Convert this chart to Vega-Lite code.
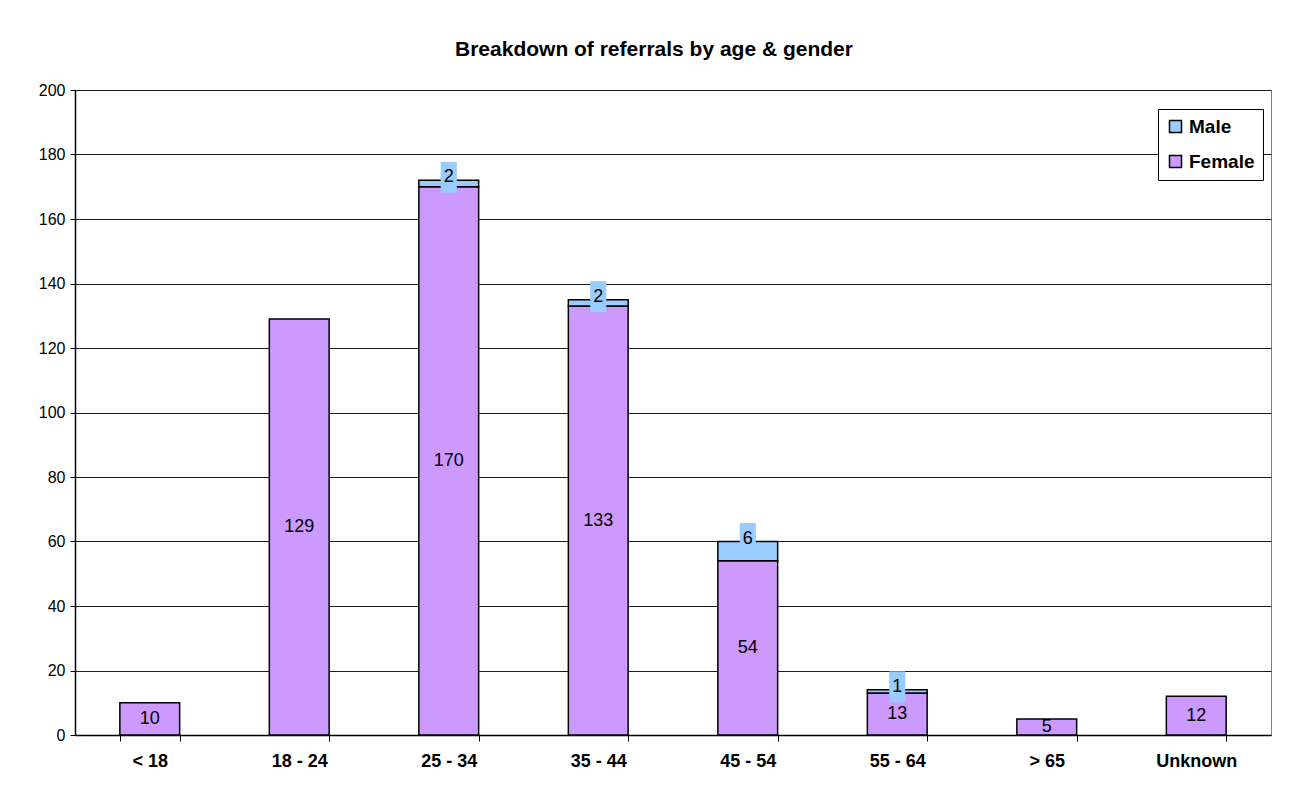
{
  "$schema": "https://vega.github.io/schema/vega-lite/v6.json",
  "width": 1196,
  "height": 645,
  "autosize": {"type": "none"},
  "padding": {"left": 75, "top": 90, "right": 33, "bottom": 57},
  "background": "white",
  "title": {
    "text": "Breakdown of referrals by age & gender",
    "fontSize": 21,
    "fontWeight": "bold",
    "font": "Liberation Sans",
    "color": "black",
    "anchor": "middle",
    "dx": -19,
    "offset": 22
  },
  "data": {
    "values": [
      {"age": "< 18", "gender": "Female", "count": 10},
      {"age": "18 - 24", "gender": "Female", "count": 129},
      {"age": "25 - 34", "gender": "Female", "count": 170},
      {"age": "25 - 34", "gender": "Male", "count": 2},
      {"age": "35 - 44", "gender": "Female", "count": 133},
      {"age": "35 - 44", "gender": "Male", "count": 2},
      {"age": "45 - 54", "gender": "Female", "count": 54},
      {"age": "45 - 54", "gender": "Male", "count": 6},
      {"age": "55 - 64", "gender": "Female", "count": 13},
      {"age": "55 - 64", "gender": "Male", "count": 1},
      {"age": "> 65", "gender": "Female", "count": 5},
      {"age": "Unknown", "gender": "Female", "count": 12}
    ]
  },
  "transform": [
    {"stack": "count", "groupby": ["age"], "sort": [{"field": "gender", "order": "ascending"}], "as": ["y0", "y1"]},
    {"calculate": "(datum.y0 + datum.y1) / 2", "as": "mid"}
  ],
  "encoding": {
    "x": {
      "field": "age",
      "type": "nominal",
      "sort": ["< 18", "18 - 24", "25 - 34", "35 - 44", "45 - 54", "55 - 64", "> 65", "Unknown"],
      "scale": {"paddingInner": 0.6, "paddingOuter": 0.3},
      "axis": {
        "title": null,
        "labelAngle": 0,
        "labelFont": "Liberation Sans",
        "labelFontSize": 18,
        "labelFontWeight": "bold",
        "labelColor": "black",
        "labelPadding": 11,
        "tickBand": "extent",
        "tickSize": 6,
        "tickColor": "black",
        "domainColor": "black",
        "domainWidth": 1.5,
        "grid": false
      }
    }
  },
  "layer": [
    {
      "mark": {"type": "bar", "stroke": "black", "strokeWidth": 1.5},
      "encoding": {
        "y": {
          "field": "y1",
          "type": "quantitative",
          "scale": {"domain": [0, 200], "nice": false},
          "axis": {
            "title": null,
            "values": [0, 20, 40, 60, 80, 100, 120, 140, 160, 180, 200],
            "labelFont": "Liberation Sans",
            "labelFontSize": 16,
            "labelColor": "black",
            "labelPadding": 5,
            "tickSize": 5,
            "tickColor": "black",
            "domainColor": "black",
            "domainWidth": 1.5,
            "grid": true,
            "gridColor": "#1a1a1a",
            "gridOpacity": 1,
            "gridWidth": 1
          }
        },
        "y2": {"field": "y0"},
        "color": {
          "field": "gender",
          "type": "nominal",
          "scale": {"domain": ["Male", "Female"], "range": ["#99CCFF", "#CC99FF"]},
          "legend": {
            "title": null,
            "orient": "none",
            "legendX": 1083,
            "legendY": 19,
            "direction": "vertical",
            "symbolType": "square",
            "symbolSize": 144,
            "symbolStrokeColor": "black",
            "symbolStrokeWidth": 1.5,
            "symbolOpacity": 1,
            "labelFont": "Liberation Sans",
            "labelFontSize": 19,
            "labelFontWeight": "bold",
            "labelColor": "black",
            "labelOffset": 4,
            "rowPadding": 15,
            "padding": 8,
            "strokeColor": "black",
            "fillColor": "white"
          }
        }
      }
    },
    {
      "transform": [{"filter": "datum.gender === 'Female'"}],
      "mark": {"type": "text", "font": "Liberation Sans", "fontSize": 18, "color": "black", "baseline": "middle", "align": "center"},
      "encoding": {
        "y": {"field": "mid", "type": "quantitative"},
        "text": {"field": "count", "type": "quantitative"}
      }
    },
    {
      "transform": [{"filter": "datum.gender === 'Male'"}],
      "mark": {"type": "point", "shape": "M-0.52,-1L0.52,-1L0.52,1L-0.52,1Z", "size": 961, "filled": true, "fill": "#99CCFF", "opacity": 1, "strokeWidth": 0, "yOffset": -3},
      "encoding": {
        "y": {"field": "y1", "type": "quantitative"}
      }
    },
    {
      "transform": [{"filter": "datum.gender === 'Male'"}],
      "mark": {"type": "text", "font": "Liberation Sans", "fontSize": 18, "color": "black", "baseline": "middle", "align": "center", "yOffset": -3},
      "encoding": {
        "y": {"field": "y1", "type": "quantitative"},
        "text": {"field": "count", "type": "quantitative"}
      }
    }
  ],
  "config": {
    "font": "Liberation Sans",
    "view": {"stroke": "#808080", "strokeWidth": 1}
  }
}
